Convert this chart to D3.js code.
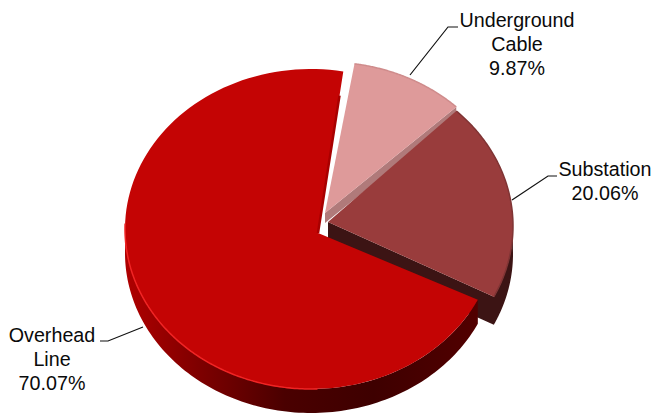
<!DOCTYPE html>
<html><head><meta charset="utf-8">
<script src="https://cdn.jsdelivr.net/npm/d3@7"></script>
<style>html,body{margin:0;padding:0;background:#fff}svg{display:block}text{font-family:"Liberation Sans",Arial,sans-serif;font-size:19.7px;fill:#0a0a0a;text-anchor:middle}</style>
</head><body><svg id="c" width="653" height="414"></svg>
<script>
const categories = ["Underground Cable", "Substation", "Overhead Line"];
const shares = [9.87, 20.06, 70.07];
const shareLabels = ["9.87%", "20.06%", "70.07%"];
const nameLines = [["Underground", "Cable"], ["Substation"], ["Overhead", "Line"]];
const topColors = ["#de9a9a", "#993c3c", "#c40404"];
const rimColors = ["#cf8c8c", "#7f3434", "#f02424"];
const wallColors = ["#b07a7a", "#3c1414", "url(#redWall)"];

const rx = 186, ry = 160;
const ellipseCentres = [[327, 222], [327, 226], [311, 229]];
const apexes = [[325, 213], [328, 222], [318, 233]];
const depths = [10, 28, 24];
const startNudge = [0, 0, 1.5];
const leaders = [[[410, 75], [448, 27], [458, 27]], [[512, 200], [548, 176], [557, 176]], [[143, 327], [108, 341], [100, 341]]];
const labelAnchors = [[517, 27], [605, 176], [52, 342]];

const svg = d3.select("#c");
const grad = svg.append("defs").append("linearGradient").attr("id", "redWall")
  .attr("gradientUnits", "userSpaceOnUse").attr("x1", 125).attr("x2", 480).attr("y1", 0).attr("y2", 0);
[[0, "#b00000"], [0.2, "#800000"], [0.45, "#4a0000"], [0.7, "#3e0000"], [1, "#520000"]].forEach(s =>
  grad.append("stop").attr("offset", s[0]).attr("stop-color", s[1]));

const rad = Math.PI / 180;
const arcs = d3.pie().sort(null).startAngle(8.5 * rad).endAngle((8.5 + 360) * rad)(shares);
const line = d3.line();
const arcPoints = (i, a0, a1) => d3.range(0, 121).map(k => {
  const a = a0 + (a1 - a0) * k / 120;
  return [ellipseCentres[i][0] + rx * Math.sin(a), ellipseCentres[i][1] - ry * Math.cos(a)];
});
const band = (pts, d) => line(pts.concat(pts.map(p => [p[0], p[1] + d]).reverse())) + "Z";

function drawSlice(i) {
  const s = arcs[i], end = s.endAngle + startNudge[i] * rad, pts = arcPoints(i, s.startAngle, end);
  let wall;
  if (i === 0) wall = [apexes[0], pts[120]];
  if (i === 1) wall = [apexes[1]].concat(arcPoints(1, end, 88 * rad));
  if (i === 2) wall = arcPoints(2, s.startAngle, 272 * rad);
  svg.append("path").attr("d", band(wall, depths[i])).attr("fill", wallColors[i]);
  svg.append("path").attr("d", line([apexes[i]].concat(pts)) + "Z").attr("fill", topColors[i]);
  const rim = i === 2 ? arcPoints(2, 178 * rad, 272 * rad) : pts;
  svg.append("path").attr("d", line(rim)).attr("fill", "none").attr("stroke", rimColors[i]).attr("stroke-width", 1.5);
  if (i === 2) {
    const e = pts[120];
    const from = [apexes[2][0] + (e[0] - apexes[2][0]) * 0.85, apexes[2][1] + (e[1] - apexes[2][1]) * 0.85];
    svg.append("path").attr("d", line([from, apexes[2]])).attr("fill", "none").attr("stroke", "#a80000").attr("stroke-width", 2.5);
  }
}
[0, 1, 2].forEach(drawSlice);

leaders.forEach(l => svg.append("path").attr("d", line(l)).attr("fill", "none").attr("stroke", "#111").attr("stroke-width", 1.2));

categories.forEach((c, i) => {
  const t = svg.append("text").attr("aria-label", c);
  nameLines[i].concat([shareLabels[i]]).forEach((s, k) =>
    t.append("tspan").attr("x", labelAnchors[i][0]).attr("y", labelAnchors[i][1] + k * 24).text(s));
});
</script></body></html>
